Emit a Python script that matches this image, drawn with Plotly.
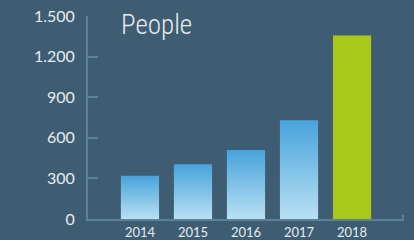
import plotly.graph_objects as go

years = ["2014", "2015", "2016", "2017", "2018"]
people = [320, 405, 510, 730, 1355]
highlight = [False, False, False, False, True]

BG = "#3e5d73"
AXIS = "#5a8299"
TXT = "#e6ecf0"
BLUE_TOP = "#47a3db"
BLUE_BOT = "#b8e0f3"
GREEN = "#a8c81a"
HALF = 0.36
X_RANGE = [-0.98, 4.98]

fig = go.Figure()
for i, (yr, v, hl) in enumerate(zip(years, people, highlight)):
    xs = [i - HALF, i + HALF, i + HALF, i - HALF, i - HALF]
    ys = [0, 0, v, v, 0]
    kw = dict(fillcolor=GREEN) if hl else dict(
        fillgradient=dict(type="vertical", colorscale=[[0, BLUE_BOT], [1, BLUE_TOP]]))
    fig.add_trace(go.Scatter(x=xs, y=ys, mode="lines", fill="toself",
                             line=dict(width=0), hoverinfo="skip", showlegend=False, name=yr, **kw))

fig.update_layout(
    width=414, height=240,
    paper_bgcolor=BG, plot_bgcolor=BG,
    margin=dict(l=88, r=10, t=16, b=21, autoexpand=False),
    separators=",.",
    font=dict(family="Lato", color=TXT),
    showlegend=False,
    annotations=[dict(text="People", xref="paper", yref="paper", x=0.097, y=0.955,
                      xanchor="left", yanchor="middle", showarrow=False,
                      font=dict(family="Roboto Condensed", size=27, color=TXT, weight=300))],
    shapes=[dict(type="line", xref="x", yref="y", x0=X_RANGE[1] - 0.02, x1=X_RANGE[1] - 0.02,
                 y0=0, y1=30, line=dict(color=AXIS, width=2))],
)
fig.update_xaxes(range=X_RANGE, tickmode="array", tickvals=list(range(len(years))),
                 ticktext=years, showgrid=False, zeroline=False, showline=True,
                 linecolor=AXIS, linewidth=2, ticks="", tickfont=dict(size=13, color=TXT),
                 fixedrange=True, automargin=False)
fig.update_yaxes(range=[0, 1500], tickmode="array", tickvals=[0, 300, 600, 900, 1200, 1500],
                 tickformat=",d", showgrid=False, zeroline=False, showline=True,
                 linecolor=AXIS, linewidth=2, ticks="inside", ticklen=10, tickwidth=2,
                 tickcolor=AXIS, tickfont=dict(size=16, color=TXT), ticklabelstandoff=8,
                 fixedrange=True, automargin=False)

fig.write_html("out.html", config={"displayModeBar": False},
               post_script="document.body.style.margin='0';document.body.style.background='%s';" % BG)
